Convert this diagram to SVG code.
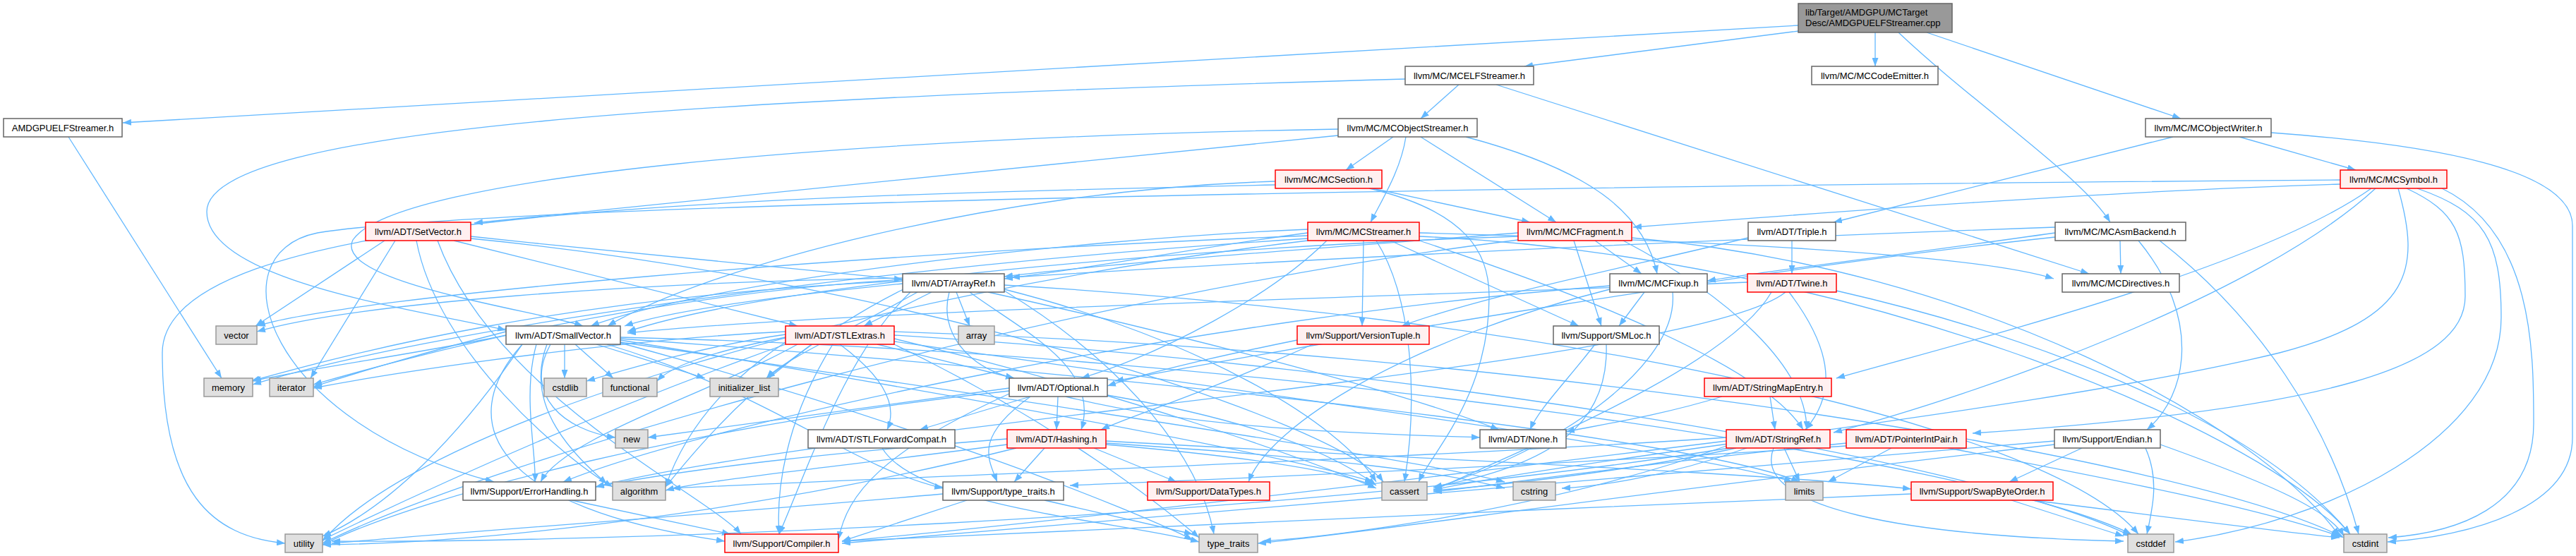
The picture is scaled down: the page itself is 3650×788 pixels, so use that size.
<svg xmlns="http://www.w3.org/2000/svg" width="3650" height="788" viewBox="0 0 3650 788">
<style>
.e path{fill:none;stroke:#63b8ff;stroke-width:1.3;marker-end:url(#a)}
.w rect{fill:#fff;stroke:#666;stroke-width:1.5}
.r rect{fill:#fff0f0;stroke:#f00;stroke-width:1.5}
.g rect{fill:#e0e0e0;stroke:#999;stroke-width:1.5}
.k rect{fill:#999;stroke:#666;stroke-width:1.5}
text{font-family:"Liberation Sans",Arial,sans-serif;font-size:13px;fill:#000;text-anchor:middle}
text.l{text-anchor:start}
</style>
<defs>
<marker id="a" viewBox="0 0 12 9" refX="12" refY="4.5" markerWidth="12" markerHeight="9" markerUnits="userSpaceOnUse" orient="auto"><path d="M0,0 L12,4.5 L0,9 z" fill="#63b8ff"/></marker>
</defs>
<rect width="3650" height="788" fill="#fff"/>
<g id="edges" class="e">
<path d="M2548,36 L174,174"/>
<path d="M2548,44 L2160,94"/>
<path d="M2657,46 L2657,94"/>
<path d="M2690,46 C2800,150 2950,250 2990,315"/>
<path d="M2730,46 L3090,168"/>
<path d="M97,194 L314,536"/>
<path d="M2067,120 L2013,168"/>
<path d="M2120,120 L2960,388"/>
<path d="M1991,112 C1000,140 293,180 293,300 C293,400 600,440 717,468"/>
<path d="M1974,194 L1907,241"/>
<path d="M1992,194 C1985,240 1960,280 1942,315"/>
<path d="M2013,194 L2205,315"/>
<path d="M2077,194 C2250,240 2330,300 2348,388"/>
<path d="M1896,192 L672,316"/>
<path d="M1896,183 C1200,195 560,250 500,340 C470,400 760,440 826,462"/>
<path d="M3079,194 L2598,315"/>
<path d="M3173,194 L3338,241"/>
<path d="M3218,188 C3450,205 3645,240 3645,320 L3645,620 C3645,720 3500,760 3383,768"/>
<path d="M1945,267 L2168,315"/>
<path d="M1807,257 C1400,270 1000,380 861,462"/>
<path d="M1940,267 C2080,300 2110,360 2110,420 C2110,560 2030,640 2010,683"/>
<path d="M1807,262 C1000,280 230,300 230,500 C230,700 300,760 404,770"/>
<path d="M3316,261 C3000,270 2600,300 2314,322"/>
<path d="M3360,267 C3200,380 2800,480 2602,536"/>
<path d="M3366,267 C3200,420 2800,560 2598,613"/>
<path d="M3398,267 C3430,380 3420,450 3230,500 C2900,580 2300,640 2031,694"/>
<path d="M3316,255 C2000,265 700,290 450,330 C300,360 380,600 700,683"/>
<path d="M3410,267 C3480,300 3493,330 3493,420 C3493,520 3300,580 2795,614"/>
<path d="M3425,267 C3520,300 3544,340 3544,450 C3544,620 3300,740 3082,768"/>
<path d="M3460,267 C3590,330 3590,500 3590,600 C3590,720 3480,755 3384,762"/>
<path d="M667,335 C900,360 1150,385 1279,396"/>
<path d="M643,341 L1130,462"/>
<path d="M620,341 C700,560 1000,700 1050,757"/>
<path d="M590,341 C620,500 800,650 868,690"/>
<path d="M667,338 C1300,400 1900,600 1960,683"/>
<path d="M560,341 L440,536"/>
<path d="M545,341 L362,462"/>
<path d="M1279,402 C1100,420 950,440 885,462"/>
<path d="M1320,414 L1224,462"/>
<path d="M1355,414 L1374,462"/>
<path d="M1374,414 C1450,470 1560,520 1532,609"/>
<path d="M1400,414 C1700,480 2000,560 2124,609"/>
<path d="M1345,414 C1330,470 1370,520 1437,536"/>
<path d="M1290,414 C1200,500 1150,650 1104,757"/>
<path d="M1280,410 C1100,500 1000,620 943,690"/>
<path d="M1423,410 C1700,480 1900,600 1950,683"/>
<path d="M1423,404 C2200,450 2900,600 3030,757"/>
<path d="M1300,414 C1200,470 1110,510 1086,536"/>
<path d="M1279,396 C900,420 600,500 444,545"/>
<path d="M1279,398 C800,420 500,500 356,540"/>
<path d="M1423,412 C1600,520 1700,650 1720,757"/>
<path d="M1279,394 C900,400 500,430 364,470"/>
<path d="M1932,341 L1930,462"/>
<path d="M1970,341 L2237,462"/>
<path d="M1950,341 C2000,420 2010,560 1990,683"/>
<path d="M1853,330 C1700,350 1550,380 1423,395"/>
<path d="M1853,325 C1500,340 1000,400 837,462"/>
<path d="M1880,341 C1800,420 1650,500 1532,536"/>
<path d="M2011,341 C2250,420 2500,520 2555,609"/>
<path d="M2011,330 C2400,340 2800,360 2910,395"/>
<path d="M1853,338 C1200,380 600,470 358,545"/>
<path d="M1853,341 C1200,420 600,600 457,767"/>
<path d="M1853,334 C1200,360 500,420 364,462"/>
<path d="M2011,335 C2600,360 3200,600 3330,757"/>
<path d="M2260,341 L2326,388"/>
<path d="M2230,341 L2269,462"/>
<path d="M2151,330 C1900,350 1600,370 1423,392"/>
<path d="M2151,335 C1700,350 1100,400 889,470"/>
<path d="M2300,341 C2450,420 2560,520 2560,609"/>
<path d="M2312,337 C2800,380 3200,600 3315,760"/>
<path d="M2151,340 C1500,420 700,650 457,770"/>
<path d="M2330,414 L2294,462"/>
<path d="M2370,414 C2380,520 2200,640 2031,692"/>
<path d="M2281,405 C1700,450 1000,600 798,683"/>
<path d="M2281,410 C2000,480 1800,600 1769,683"/>
<path d="M3004,341 L3005,388"/>
<path d="M2912,330 C2700,360 2500,385 2419,398"/>
<path d="M2912,322 C2400,340 1800,370 1433,393"/>
<path d="M2912,336 C2500,380 1900,480 1580,540"/>
<path d="M3030,341 C3120,450 3100,560 3042,609"/>
<path d="M3060,341 C3200,450 3300,600 3342,757"/>
<path d="M2539,341 L2539,388"/>
<path d="M2477,337 C2300,380 2100,420 1986,462"/>
<path d="M2535,414 C2600,500 2600,560 2558,609"/>
<path d="M2476,400 C2000,420 1200,440 889,472"/>
<path d="M2530,414 C2400,520 1200,600 844,690"/>
<path d="M2510,414 C2450,520 2150,640 2031,695"/>
<path d="M2602,412 C2900,480 3200,600 3330,757"/>
<path d="M800,488 L800,536"/>
<path d="M815,488 L869,536"/>
<path d="M845,488 L999,536"/>
<path d="M780,488 C740,560 800,610 872,620"/>
<path d="M775,488 C740,580 820,650 860,686"/>
<path d="M740,488 C640,600 700,720 1027,767"/>
<path d="M860,488 C1100,560 1200,660 1336,692"/>
<path d="M879,482 C1300,550 1800,640 1946,683"/>
<path d="M879,478 C1800,500 2800,650 3020,757"/>
<path d="M879,485 C1400,560 2000,650 2132,683"/>
<path d="M717,470 C600,500 500,530 444,548"/>
<path d="M879,480 C1600,530 2400,620 2550,683"/>
<path d="M717,475 C600,500 450,520 358,540"/>
<path d="M879,486 C1300,600 1600,720 1690,765"/>
<path d="M740,488 C650,620 550,720 457,760"/>
<path d="M760,488 C740,560 760,640 758,683"/>
<path d="M1243,488 L1437,536"/>
<path d="M1190,488 C1260,540 1270,580 1257,609"/>
<path d="M1150,488 L1086,536"/>
<path d="M1130,488 C1000,560 800,620 766,683"/>
<path d="M1180,488 C1110,600 1100,700 1104,757"/>
<path d="M1113,478 C1000,500 950,520 931,540"/>
<path d="M1113,474 C1000,490 900,520 831,540"/>
<path d="M1113,485 C1000,560 960,640 943,690"/>
<path d="M1113,470 C900,480 600,520 444,550"/>
<path d="M1113,488 C800,600 550,720 457,765"/>
<path d="M1267,480 C1600,560 1850,650 1950,692"/>
<path d="M1267,475 C2000,520 2800,650 3020,760"/>
<path d="M1267,470 C2200,500 3100,650 3321,762"/>
<path d="M1267,484 C1800,560 2400,640 2540,683"/>
<path d="M1267,488 C1500,600 1650,720 1699,762"/>
<path d="M1499,562 L1497,609"/>
<path d="M1460,562 C1380,620 1400,650 1413,683"/>
<path d="M1460,562 L1303,609"/>
<path d="M1510,562 C1700,610 1950,615 2097,620"/>
<path d="M1430,558 C1250,640 1200,700 1188,765"/>
<path d="M1569,560 C1800,600 1900,650 1950,688"/>
<path d="M1430,550 C1200,580 1000,610 918,620"/>
<path d="M1430,554 C1000,600 600,700 457,772"/>
<path d="M2508,562 L2515,609"/>
<path d="M2440,562 C2350,590 2250,605 2219,612"/>
<path d="M1250,635 C1300,720 1600,740 1699,768"/>
<path d="M1480,635 L1437,683"/>
<path d="M1550,635 L1667,683"/>
<path d="M1427,622 C1200,640 1000,660 844,690"/>
<path d="M1567,625 C2000,650 2500,670 2708,693"/>
<path d="M1427,630 C1200,660 1000,680 943,695"/>
<path d="M1567,630 C1800,650 1900,670 1946,688"/>
<path d="M1567,628 C1900,650 2050,670 2132,692"/>
<path d="M1440,635 C1100,720 700,770 457,772"/>
<path d="M2528,635 L2550,683"/>
<path d="M2446,625 C2000,680 1500,740 1193,767"/>
<path d="M2446,620 C2000,650 1200,680 952,692"/>
<path d="M2460,635 C2300,670 2100,690 2031,695"/>
<path d="M2513,635 C2480,720 2700,760 3009,767"/>
<path d="M2475,635 C2350,680 2250,690 2213,692"/>
<path d="M2446,632 C2200,720 1900,760 1789,767"/>
<path d="M2450,635 C1800,740 800,770 470,767"/>
<path d="M2680,635 L2590,683"/>
<path d="M2616,628 C2300,660 2100,690 2031,697"/>
<path d="M2760,635 C3000,680 3200,720 3315,760"/>
<path d="M2616,632 C2200,660 1700,680 1516,688"/>
<path d="M2950,635 L2847,683"/>
<path d="M2911,625 C2200,680 1500,740 1193,770"/>
<path d="M3040,635 C3060,680 3050,720 3042,757"/>
<path d="M3061,630 C3200,680 3300,720 3321,760"/>
<path d="M2911,630 C2300,700 1900,760 1782,770"/>
<path d="M2850,709 L3009,760"/>
<path d="M2880,709 C3050,730 3200,750 3315,762"/>
<path d="M2708,700 C2200,720 1600,750 1193,767"/>
<path d="M1370,709 L1193,767"/>
<path d="M1480,709 L1690,757"/>
<path d="M1336,700 C1000,730 700,750 470,770"/>
<path d="M810,709 L1035,757"/>
<path d="M1838,482 C1700,510 1620,530 1569,547"/>
<path d="M1860,488 C1700,560 1600,590 1560,609"/>
<path d="M2260,488 C2220,540 2180,580 2168,609"/>
<path d="M2276,488 C2280,600 2200,660 2031,690"/>
</g>
<g id="n_root" class="k"><rect x="2548" y="5" width="218" height="41"/><text class="l" x="2558" y="22">lib/Target/AMDGPU/MCTarget</text><text class="l" x="2558" y="37">Desc/AMDGPUELFStreamer.cpp</text></g>
<g id="n_amdgpuelfstreamer_h" class="w"><rect x="5" y="168" width="168" height="26"/><text x="89" y="185.5">AMDGPUELFStreamer.h</text></g>
<g id="n_mcelfstreamer" class="w"><rect x="1991" y="94" width="182" height="26"/><text x="2082" y="111.5">llvm/MC/MCELFStreamer.h</text></g>
<g id="n_mccodeemitter" class="w"><rect x="2567" y="94" width="179" height="26"/><text x="2656.5" y="111.5">llvm/MC/MCCodeEmitter.h</text></g>
<g id="n_mcobjectstreamer" class="w"><rect x="1896" y="168" width="197" height="26"/><text x="1994.5" y="185.5">llvm/MC/MCObjectStreamer.h</text></g>
<g id="n_mcobjectwriter" class="w"><rect x="3040" y="168" width="178" height="26"/><text x="3129" y="185.5">llvm/MC/MCObjectWriter.h</text></g>
<g id="n_mcsection" class="r"><rect x="1807" y="241" width="151" height="26"/><text x="1882.5" y="258.5">llvm/MC/MCSection.h</text></g>
<g id="n_mcsymbol" class="r"><rect x="3316" y="241" width="151" height="26"/><text x="3391.5" y="258.5">llvm/MC/MCSymbol.h</text></g>
<g id="n_setvector" class="r"><rect x="518" y="315" width="149" height="26"/><text x="592.5" y="332.5">llvm/ADT/SetVector.h</text></g>
<g id="n_mcstreamer" class="r"><rect x="1853" y="315" width="158" height="26"/><text x="1932" y="332.5">llvm/MC/MCStreamer.h</text></g>
<g id="n_mcfragment" class="r"><rect x="2151" y="315" width="161" height="26"/><text x="2231.5" y="332.5">llvm/MC/MCFragment.h</text></g>
<g id="n_triple" class="w"><rect x="2477" y="315" width="124" height="26"/><text x="2539" y="332.5">llvm/ADT/Triple.h</text></g>
<g id="n_mcasmbackend" class="w"><rect x="2912" y="315" width="185" height="26"/><text x="3004.5" y="332.5">llvm/MC/MCAsmBackend.h</text></g>
<g id="n_arrayref" class="w"><rect x="1279" y="388" width="144" height="26"/><text x="1351" y="405.5">llvm/ADT/ArrayRef.h</text></g>
<g id="n_mcfixup" class="w"><rect x="2281" y="388" width="138" height="26"/><text x="2350" y="405.5">llvm/MC/MCFixup.h</text></g>
<g id="n_twine" class="r"><rect x="2476" y="388" width="126" height="26"/><text x="2539" y="405.5">llvm/ADT/Twine.h</text></g>
<g id="n_mcdirectives" class="w"><rect x="2922" y="388" width="166" height="26"/><text x="3005" y="405.5">llvm/MC/MCDirectives.h</text></g>
<g id="n_vector" class="g"><rect x="306" y="462" width="58" height="26"/><text x="335" y="479.5">vector</text></g>
<g id="n_smallvector" class="w"><rect x="717" y="462" width="162" height="26"/><text x="798" y="479.5">llvm/ADT/SmallVector.h</text></g>
<g id="n_stlextras" class="r"><rect x="1113" y="462" width="154" height="26"/><text x="1190" y="479.5">llvm/ADT/STLExtras.h</text></g>
<g id="n_array" class="g"><rect x="1358" y="462" width="51" height="26"/><text x="1383.5" y="479.5">array</text></g>
<g id="n_versiontuple" class="r"><rect x="1838" y="462" width="187" height="26"/><text x="1931.5" y="479.5">llvm/Support/VersionTuple.h</text></g>
<g id="n_smloc" class="w"><rect x="2201" y="462" width="150" height="26"/><text x="2276" y="479.5">llvm/Support/SMLoc.h</text></g>
<g id="n_memory" class="g"><rect x="289" y="536" width="69" height="26"/><text x="323.5" y="553.5">memory</text></g>
<g id="n_iterator" class="g"><rect x="382" y="536" width="62" height="26"/><text x="413" y="553.5">iterator</text></g>
<g id="n_cstdlib" class="g"><rect x="771" y="536" width="60" height="26"/><text x="801" y="553.5">cstdlib</text></g>
<g id="n_functional" class="g"><rect x="854" y="536" width="77" height="26"/><text x="892.5" y="553.5">functional</text></g>
<g id="n_initializer_list" class="g"><rect x="1006" y="536" width="97" height="26"/><text x="1054.5" y="553.5">initializer_list</text></g>
<g id="n_optional" class="w"><rect x="1430" y="536" width="139" height="26"/><text x="1499.5" y="553.5">llvm/ADT/Optional.h</text></g>
<g id="n_stringmapentry" class="r"><rect x="2415" y="536" width="180" height="26"/><text x="2505" y="553.5">llvm/ADT/StringMapEntry.h</text></g>
<g id="n_new" class="g"><rect x="872" y="609" width="46" height="26"/><text x="895" y="626.5">new</text></g>
<g id="n_stlforwardcompat" class="w"><rect x="1145" y="609" width="208" height="26"/><text x="1249" y="626.5">llvm/ADT/STLForwardCompat.h</text></g>
<g id="n_hashing" class="r"><rect x="1427" y="609" width="140" height="26"/><text x="1497" y="626.5">llvm/ADT/Hashing.h</text></g>
<g id="n_none" class="w"><rect x="2097" y="609" width="122" height="26"/><text x="2158" y="626.5">llvm/ADT/None.h</text></g>
<g id="n_stringref" class="r"><rect x="2446" y="609" width="147" height="26"/><text x="2519.5" y="626.5">llvm/ADT/StringRef.h</text></g>
<g id="n_pointerintpair" class="r"><rect x="2616" y="609" width="170" height="26"/><text x="2701" y="626.5">llvm/ADT/PointerIntPair.h</text></g>
<g id="n_endian" class="w"><rect x="2911" y="609" width="150" height="26"/><text x="2986" y="626.5">llvm/Support/Endian.h</text></g>
<g id="n_errorhandling" class="w"><rect x="656" y="683" width="188" height="26"/><text x="750" y="700.5">llvm/Support/ErrorHandling.h</text></g>
<g id="n_algorithm" class="g"><rect x="868" y="683" width="75" height="26"/><text x="905.5" y="700.5">algorithm</text></g>
<g id="n_type_traits_h" class="w"><rect x="1336" y="683" width="171" height="26"/><text x="1421.5" y="700.5">llvm/Support/type_traits.h</text></g>
<g id="n_datatypes" class="r"><rect x="1626" y="683" width="173" height="26"/><text x="1712.5" y="700.5">llvm/Support/DataTypes.h</text></g>
<g id="n_cassert" class="g"><rect x="1958" y="683" width="64" height="26"/><text x="1990" y="700.5">cassert</text></g>
<g id="n_cstring" class="g"><rect x="2144" y="683" width="60" height="26"/><text x="2174" y="700.5">cstring</text></g>
<g id="n_limits" class="g"><rect x="2530" y="683" width="53" height="26"/><text x="2556.5" y="700.5">limits</text></g>
<g id="n_swapbyteorder" class="r"><rect x="2708" y="683" width="201" height="26"/><text x="2808.5" y="700.5">llvm/Support/SwapByteOrder.h</text></g>
<g id="n_utility" class="g"><rect x="404" y="757" width="53" height="26"/><text x="430.5" y="774.5">utility</text></g>
<g id="n_compiler" class="r"><rect x="1027" y="757" width="161" height="26"/><text x="1107.5" y="774.5">llvm/Support/Compiler.h</text></g>
<g id="n_type_traits" class="g"><rect x="1699" y="757" width="83" height="26"/><text x="1740.5" y="774.5">type_traits</text></g>
<g id="n_cstddef" class="g"><rect x="3015" y="757" width="65" height="26"/><text x="3047.5" y="774.5">cstddef</text></g>
<g id="n_cstdint" class="g"><rect x="3321" y="757" width="61" height="26"/><text x="3351.5" y="774.5">cstdint</text></g>
</svg>
